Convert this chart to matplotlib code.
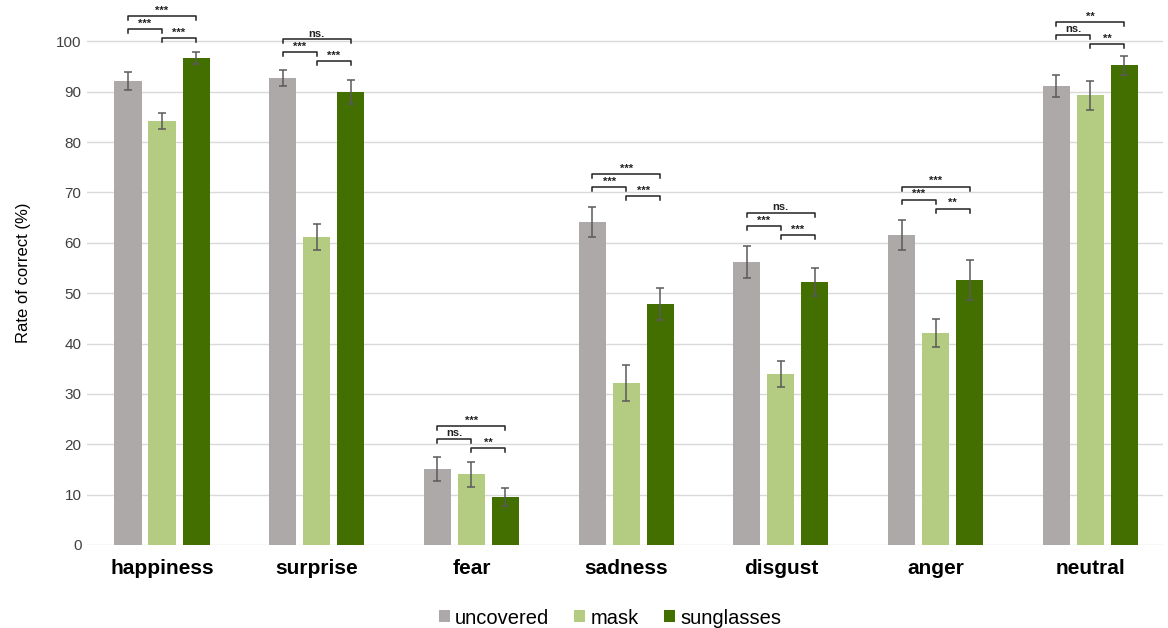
import numpy as np
import matplotlib
matplotlib.use("Agg")
import matplotlib.pyplot as plt

plt.rcParams['font.family'] = ['Liberation Sans', 'DejaVu Sans']

# Données
emotions = ["happiness", "surprise", "fear", "sadness", "disgust", "anger", "neutral"]
conditions = ["uncovered", "mask", "sunglasses"]
uncovered = [92.1, 92.7, 15.1, 64.1, 56.2, 61.5, 91.1]
mask = [84.1, 61.1, 14.0, 32.1, 33.9, 42.1, 89.3]
sunglasses = [96.6, 89.9, 9.5, 47.8, 52.2, 52.6, 95.2]
err_uncovered = [1.8, 1.6, 2.4, 3.0, 3.1, 3.0, 2.2]
err_mask = [1.6, 2.6, 2.5, 3.6, 2.6, 2.8, 2.9]
err_sunglasses = [1.2, 2.4, 1.8, 3.2, 2.7, 3.9, 1.8]

# significativité : (uncovered-mask, mask-sunglasses, uncovered-sunglasses)
sig = [("***", "***", "***"),
       ("***", "***", "ns."),
       ("ns.", "**", "***"),
       ("***", "***", "***"),
       ("***", "***", "ns."),
       ("***", "**", "***"),
       ("ns.", "**", "**")]
bracket_base = [102.4, 97.8, 21.0, 71.0, 63.3, 68.5, 101.2]

colors = ["#ADA9A8", "#B3CC82", "#436F00"]
series = [uncovered, mask, sunglasses]
errors = [err_uncovered, err_mask, err_sunglasses]

fig = plt.figure(figsize=(11.68, 6.28), dpi=100)
ax = fig.add_axes([87 / 1168, 1 - 545 / 628, 1076 / 1168, 544 / 628])

x = np.arange(len(emotions))
step = 0.22
width = 0.175

for i, (vals, errs, c, lab) in enumerate(zip(series, errors, colors, conditions)):
    pos = x + (i - 1) * step
    ax.bar(pos, vals, width, color=c, label=lab, zorder=2)
    ax.errorbar(pos, vals, yerr=errs, fmt='none', ecolor="#5a5a5a",
                elinewidth=1.1, capsize=3, capthick=1.1, zorder=3)

# Crochets de significativité
def bracket(x1, x2, y, text):
    h = 0.8
    ax.plot([x1, x1, x2, x2], [y - h, y, y, y - h], color="#222222", lw=1.1,
            zorder=4, clip_on=False)
    ax.text((x1 + x2) / 2, y + 0.15, text, ha='center', va='bottom',
            fontsize=8, fontweight='bold', color="#222222")

for k in range(len(emotions)):
    b = bracket_base[k]
    x0, x1, x2 = x[k] - step, x[k], x[k] + step
    bracket(x0, x1, b, sig[k][0])
    bracket(x1, x2, b - 1.8, sig[k][1])
    bracket(x0, x2, b + 2.6, sig[k][2])

ax.set_xlim(-0.485, 6.47)
ax.set_ylim(0, 108)
ax.set_yticks(np.arange(0, 101, 10))
ax.yaxis.grid(True, color="#D9D9D9", linewidth=1, zorder=0)
ax.set_axisbelow(True)
for s in ax.spines.values():
    s.set_visible(False)
ax.tick_params(axis='y', length=0, labelsize=11, colors="#404040", pad=4)
ax.tick_params(axis='x', length=0, pad=10)
ax.set_xticks(x)
ax.set_xticklabels(emotions, fontsize=15, fontweight='bold')
ax.set_ylabel("Rate of correct (%)", fontsize=12, labelpad=18)

ax.legend(loc='lower center', bbox_to_anchor=(0.486, -0.185), ncol=3,
          frameon=False, fontsize=14.5, handlelength=0.55, handleheight=0.55,
          handletextpad=0.25, columnspacing=1.25)

fig.savefig("out.png", dpi=100)
